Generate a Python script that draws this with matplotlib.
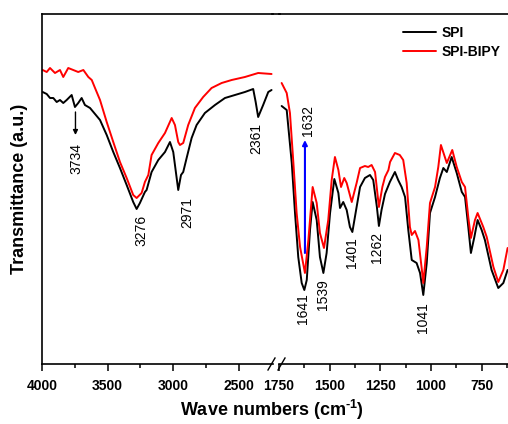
import matplotlib
matplotlib.use("Agg")
import matplotlib.pyplot as plt
from matplotlib.lines import Line2D

plt.rcParams['font.family'] = ['Liberation Sans', 'DejaVu Sans']
plt.rcParams['mathtext.fontset'] = 'custom'
plt.rcParams['mathtext.rm'] = 'Liberation Sans:bold'
plt.rcParams['mathtext.it'] = 'Liberation Sans:bold'
plt.rcParams['mathtext.bf'] = 'Liberation Sans:bold'
plt.rcParams['mathtext.default'] = 'regular'

# ---------------- data (wavenumber cm-1, transmittance a.u.) ----------------
spi_hi_w = [3995, 3964, 3939, 3914, 3888, 3863, 3838, 3812, 3774, 3749, 3724, 3698, 3673,
            3634, 3596, 3558, 3507, 3457, 3406, 3355, 3305, 3279, 3254, 3216, 3203, 3165,
            3114, 3063, 3025, 3000, 2974, 2962, 2941, 2924, 2898, 2860, 2822, 2759, 2682,
            2606, 2530, 2454, 2391, 2372, 2353, 2315, 2276, 2251]
spi_hi_t = [272, 270, 266, 266, 262, 264, 261, 264, 269, 257, 261, 266, 259,
            256, 250, 244, 229, 212, 196, 179, 162, 155, 161, 172, 174, 192,
            204, 212, 222, 212, 186, 174, 189, 192, 206, 226, 239, 251, 259,
            266, 269, 272, 275, 262, 247, 259, 272, 274]

bipy_hi_w = [3995, 3964, 3939, 3901, 3863, 3838, 3800, 3762, 3724, 3685, 3647, 3621, 3596,
             3558, 3507, 3457, 3406, 3355, 3305, 3279, 3241, 3216, 3190, 3165, 3114, 3063,
             3012, 2987, 2962, 2949, 2924, 2886, 2835, 2772, 2708, 2631, 2555, 2454, 2353, 2251]
bipy_hi_t = [294, 292, 296, 291, 294, 287, 296, 294, 292, 294, 287, 284, 276,
             264, 242, 222, 202, 186, 169, 166, 171, 182, 189, 209, 221, 231,
             246, 239, 222, 219, 221, 239, 256, 267, 276, 281, 284, 287, 291, 290]

spi_lo_w = [1737, 1712, 1687, 1671, 1655, 1638, 1625, 1613, 1597, 1584, 1564, 1548, 1531,
            1515, 1498, 1477, 1457, 1449, 1433, 1416, 1400, 1388, 1367, 1350, 1326, 1301,
            1285, 1267, 1257, 1244, 1227, 1203, 1178, 1162, 1145, 1128, 1112, 1095, 1071,
            1054, 1038, 1021, 1005, 980, 956, 939, 922, 898, 873, 848, 832, 816, 803, 786,
            770, 750, 734, 701, 668, 643, 622]
spi_lo_t = [258, 254, 201, 151, 107, 81, 74, 84, 134, 162, 144, 107, 91,
            111, 151, 185, 171, 156, 162, 154, 137, 132, 157, 177, 186, 189,
            184, 157, 138, 154, 170, 182, 192, 184, 177, 167, 134, 104, 101,
            91, 69, 101, 151, 167, 186, 196, 192, 207, 191, 172, 167, 137, 111, 127,
            144, 134, 124, 94, 76, 81, 94]

bipy_lo_w = [1737, 1712, 1696, 1679, 1663, 1646, 1622, 1605, 1584, 1564, 1548, 1528, 1507,
             1490, 1474, 1457, 1444, 1428, 1416, 1391, 1367, 1350, 1326, 1310, 1293, 1276,
             1257, 1240, 1227, 1210, 1202, 1178, 1154, 1137, 1120, 1104, 1095, 1079, 1062,
             1045, 1038, 1021, 1005, 980, 964, 951, 922, 895, 873, 848, 832, 816, 803, 783,
             770, 742, 725, 692, 668, 643, 622]
bipy_lo_t = [281, 271, 251, 201, 151, 117, 91, 124, 177, 161, 131, 116, 144,
             184, 207, 194, 177, 186, 181, 162, 181, 196, 198, 197, 199, 192,
             157, 177, 187, 194, 202, 211, 209, 204, 181, 137, 129, 133, 124,
             94, 81, 117, 161, 177, 197, 219, 201, 214, 197, 182, 177, 147, 126, 144,
             151, 137, 127, 97, 82, 94, 116]

hi_ticks = [4000, 3500, 3000, 2500]
hi_minor = [3750, 3250, 2750]
lo_ticks = [1750, 1500, 1250, 1000, 750]
lo_minor = [1625, 1375, 1125, 875, 625]

# peak labels: (text, wavenumber, y centre)
hi_labels = [("3734", 3741, 205), ("3276", 3241, 134), ("2971", 2890, 151), ("2361", 2365, 226)]
lo_labels = [("1632", 1607, 243), ("1641", 1632, 55), ("1539", 1533, 69),
             ("1401", 1390, 111), ("1262", 1267, 117), ("1041", 1040, 46)]

# ---------------- figure ----------------
W, H = 508, 424
fig = plt.figure(figsize=(W / 100, H / 100), dpi=100)
ax1 = fig.add_axes([42 / W, (H - 364) / H, 231 / W, 350 / H])
ax2 = fig.add_axes([279 / W, (H - 364) / H, 229 / W, 350 / H])

lw = 1.4
kw = dict(lw=lw, solid_joinstyle='round', solid_capstyle='round')
ax1.plot(spi_hi_w, spi_hi_t, color='black', **kw)
ax1.plot(bipy_hi_w, bipy_hi_t, color='red', **kw)
ax2.plot(spi_lo_w, spi_lo_t, color='black', label='SPI', **kw)
ax2.plot(bipy_lo_w, bipy_lo_t, color='red', label='SPI-BIPY', **kw)

ax1.set_xlim(4000, 2240)
ax2.set_xlim(1750, 620)
for ax in (ax1, ax2):
    ax.set_ylim(0, 350)
    ax.set_yticks([])
    ax.spines['right'].set_visible(False)
    for s in ax.spines.values():
        s.set_linewidth(1.2)
    ax.tick_params(axis='x', which='major', direction='out', length=5, width=1.1,
                   labelsize=10, pad=6)
    ax.tick_params(axis='x', which='minor', direction='out', length=3, width=1.1)
ax2.spines['left'].set_visible(False)

ax1.set_xticks(hi_ticks)
ax1.set_xticks(hi_minor, minor=True)
ax1.set_xticklabels([str(v) for v in hi_ticks], fontweight='bold')
ax2.set_xticks(lo_ticks)
ax2.set_xticks(lo_minor, minor=True)
ax2.set_xticklabels([str(v) for v in lo_ticks], fontweight='bold')

# top line across the gap
fig.add_artist(Line2D([272 / W, 280 / W], [(H - 14) / H] * 2, color='black', lw=1.2))
# break marks on the bottom axis
for x0 in (268, 278):
    fig.add_artist(Line2D([x0 / W, (x0 + 7) / W], [(H - 370) / H, (H - 358) / H],
                          color='black', lw=1.0))

# peak labels
for txt, xw, yv in hi_labels:
    ax1.text(xw, yv, txt, rotation=90, ha='center', va='center', fontsize=10)
for txt, xw, yv in lo_labels:
    ax2.text(xw, yv, txt, rotation=90, ha='center', va='center', fontsize=10)

# arrows
ax1.annotate('', xy=(3745, 229), xytext=(3745, 252),
             arrowprops=dict(arrowstyle='-|>', color='black', lw=1.0,
                             mutation_scale=7, shrinkA=0, shrinkB=0))
ax2.annotate('', xy=(1622, 224), xytext=(1622, 111),
             arrowprops=dict(arrowstyle='-|>', color='blue', lw=1.5,
                             mutation_scale=7, shrinkA=0, shrinkB=0))

ax2.legend(loc='upper right', bbox_to_anchor=(1.005, 0.99), frameon=False,
           prop={'weight': 'bold', 'size': 10}, handlelength=2.4,
           handletextpad=0.4, labelspacing=0.35, borderaxespad=0.2)

fig.text(272 / W, (H - 410) / H, r'Wave numbers (cm$^{\text{-1}}$)', ha='center',
         va='center', fontsize=13, fontweight='bold')
fig.text(20 / W, (H - 189) / H, 'Transmittance (a.u.)', ha='center', va='center',
         rotation=90, fontsize=13, fontweight='bold')

fig.savefig('out.png', dpi=100)
